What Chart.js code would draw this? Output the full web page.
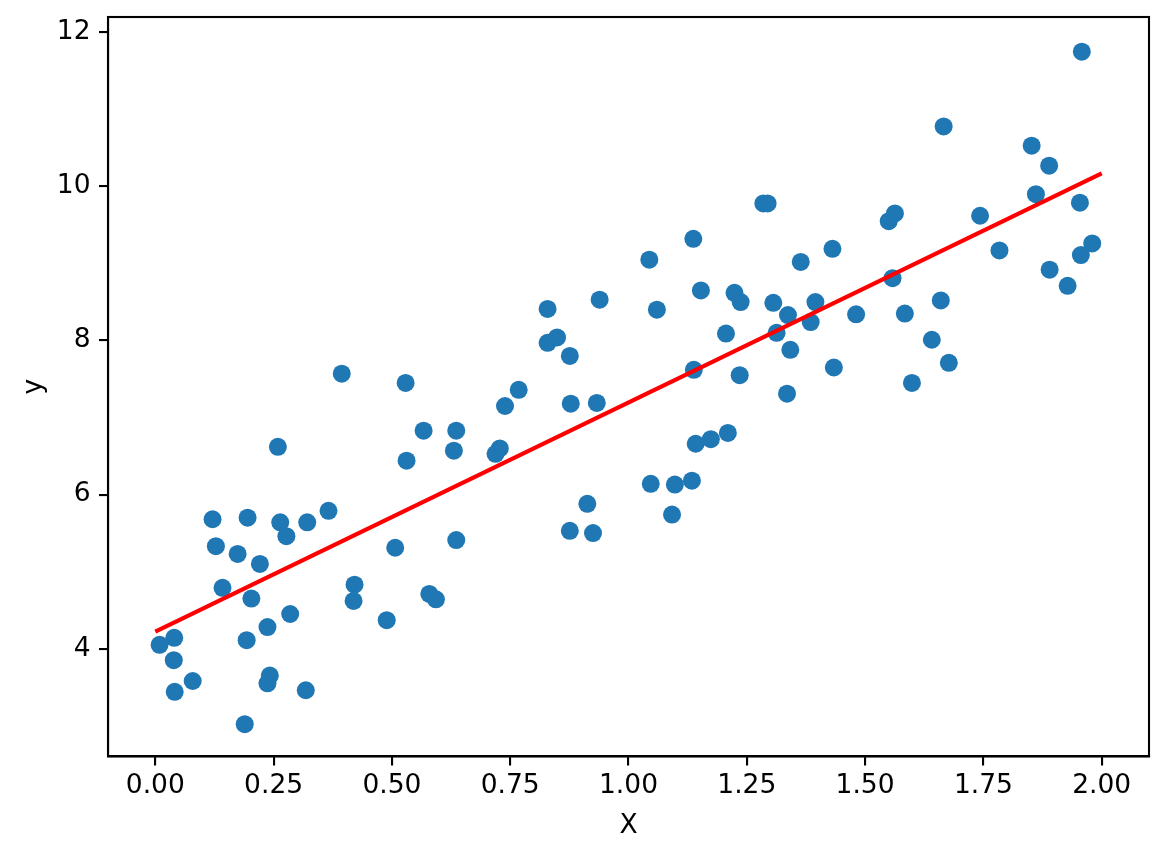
<!DOCTYPE html>
<html>
<head>
<meta charset="utf-8">
<script src="https://cdn.jsdelivr.net/npm/chart.js@4.4.1/dist/chart.umd.min.js"></script>
<style>
  html, body { margin: 0; padding: 0; background: #fff; }
  #wrap { width: 1169px; height: 858px; position: relative; }
</style>
</head>
<body>
<div id="wrap"><canvas id="c" width="1169" height="858"></canvas></div>
<script>
// Scatter data
const xVals = [
  0.394, 0.529, 0.567, 0.636, 0.631, 0.531, 0.259, 0.121, 0.195, 0.264,
  0.277, 0.321, 0.366, 0.128, 0.174, 0.221, 0.142, 0.203, 0.507, 0.636,
  0.421, 0.419, 0.579, 0.593, 0.489, 0.285, 0.237, 0.193, 0.040, 0.009,
  0.039, 0.079, 0.041, 0.242, 0.237, 0.318, 0.189,
  1.044, 1.364, 1.153, 1.224, 1.237, 1.306, 1.395, 1.337, 1.385, 1.313,
  1.342, 1.206, 1.235, 1.335, 1.138, 0.939, 1.060, 0.829, 0.849, 0.829,
  0.876, 0.768, 0.739, 0.878, 0.933, 0.728, 0.719, 1.142, 1.174, 1.210,
  1.047, 1.098, 1.134, 1.092, 0.913, 0.876, 0.925,
  1.958, 1.666, 1.852, 1.889, 1.861, 1.954, 1.563, 1.550, 1.743, 1.431,
  1.784, 1.980, 1.956, 1.890, 1.928, 1.558, 1.481, 1.584, 1.660, 1.641,
  1.677, 1.599, 1.434,
  1.137, 1.285, 1.294
];
const yVals = [
  7.57, 7.45, 6.83, 6.83, 6.57, 6.44, 6.62, 5.68, 5.70, 5.64,
  5.46, 5.64, 5.79, 5.33, 5.23, 5.10, 4.79, 4.65, 5.31, 5.41,
  4.83, 4.62, 4.71, 4.64, 4.37, 4.45, 4.28, 4.11, 4.14, 4.05,
  3.85, 3.58, 3.44, 3.65, 3.55, 3.46, 3.02,
  9.05, 9.02, 8.65, 8.62, 8.50, 8.49, 8.50, 8.33, 8.24, 8.10,
  7.88, 8.09, 7.55, 7.31, 7.62, 8.53, 8.40, 8.41, 8.04, 7.97,
  7.80, 7.36, 7.15, 7.18, 7.19, 6.60, 6.53, 6.66, 6.72, 6.80,
  6.14, 6.13, 6.18, 5.74, 5.88, 5.53, 5.50,
  11.75, 10.78, 10.53, 10.27, 9.90, 9.79, 9.65, 9.55, 9.62, 9.19,
  9.17, 9.26, 9.11, 8.92, 8.71, 8.81, 8.34, 8.35, 8.52, 8.01,
  7.71, 7.45, 7.65,
  9.32, 9.78, 9.78
];
// Fitted line endpoints
const fitX = [0, 2];
const fitY = [4.22, 10.17];
// Tick labels
const xTicks = [0, 0.25, 0.5, 0.75, 1.0, 1.25, 1.5, 1.75, 2.0];
const yTicks = [4, 6, 8, 10, 12];
const xLabel = 'X';
const yLabel = 'y';

const scatterPts = xVals.map((x, i) => ({ x: x, y: yVals[i] }));
const linePts = fitX.map((x, i) => ({ x: x, y: fitY[i] }));

Chart.defaults.color = '#000';
Chart.defaults.font.family = "'DejaVu Sans', sans-serif";
Chart.defaults.font.size = 26.5;

const frame = {
  id: 'frame',
  afterDraw(chart) {
    const a = chart.chartArea, ctx = chart.ctx;
    ctx.save();
    ctx.strokeStyle = '#000';
    ctx.lineWidth = 2.1;
    ctx.strokeRect(a.left, a.top, a.right - a.left, a.bottom - a.top);
    ctx.restore();
  }
};

const tickFont = { family: "'DejaVu Sans', sans-serif", size: 26.5 };

new Chart(document.getElementById('c'), {
  type: 'scatter',
  data: {
    datasets: [
      {
        type: 'line',
        data: linePts,
        borderColor: '#ff0000',
        borderWidth: 4.2,
        pointRadius: 0,
        fill: false,
        tension: 0,
        order: 0
      },
      {
        data: scatterPts,
        backgroundColor: '#1f77b4',
        borderWidth: 0,
        pointRadius: 9,
        pointHoverRadius: 9,
        order: 1
      }
    ]
  },
  plugins: [frame],
  options: {
    responsive: false,
    animation: false,
    devicePixelRatio: 1,
    layout: { padding: { top: 17, right: 20, left: 0, bottom: 0 } },
    plugins: { legend: { display: false }, tooltip: { enabled: false } },
    scales: {
      x: {
        type: 'linear',
        min: -0.1,
        max: 2.1,
        afterBuildTicks: (s) => { s.ticks = xTicks.map(v => ({ value: v })); },
        afterFit: (s) => { s.height = 101.5; s.paddingLeft = 0; s.paddingRight = 0; },
        ticks: { font: tickFont, padding: 5, maxRotation: 0, autoSkip: false,
                 callback: (v) => Number(v).toFixed(2) },
        grid: { display: true, drawOnChartArea: false, drawTicks: true,
                tickLength: 9, tickWidth: 2.1, tickColor: '#000', color: '#000', lineWidth: 2.1 },
        border: { display: true, color: '#000', width: 2.1 },
        title: { display: true, text: xLabel, font: tickFont, padding: { top: 0, bottom: 16 } }
      },
      y: {
        type: 'linear',
        min: 2.6,
        max: 12.2,
        afterBuildTicks: (s) => { s.ticks = yTicks.map(v => ({ value: v })); },
        afterFit: (s) => { s.width = 108; s.paddingTop = 0; s.paddingBottom = 0; },
        ticks: { font: tickFont, padding: 8.5, autoSkip: false,
                 callback: (v) => String(v) },
        grid: { display: true, drawOnChartArea: false, drawTicks: true,
                tickLength: 9, tickWidth: 2.1, tickColor: '#000', color: '#000', lineWidth: 2.1 },
        border: { display: true, color: '#000', width: 2.1 },
        title: { display: true, text: yLabel, font: tickFont, padding: { top: 18, bottom: 0 } }
      }
    }
  }
});
</script>
</body>
</html>
